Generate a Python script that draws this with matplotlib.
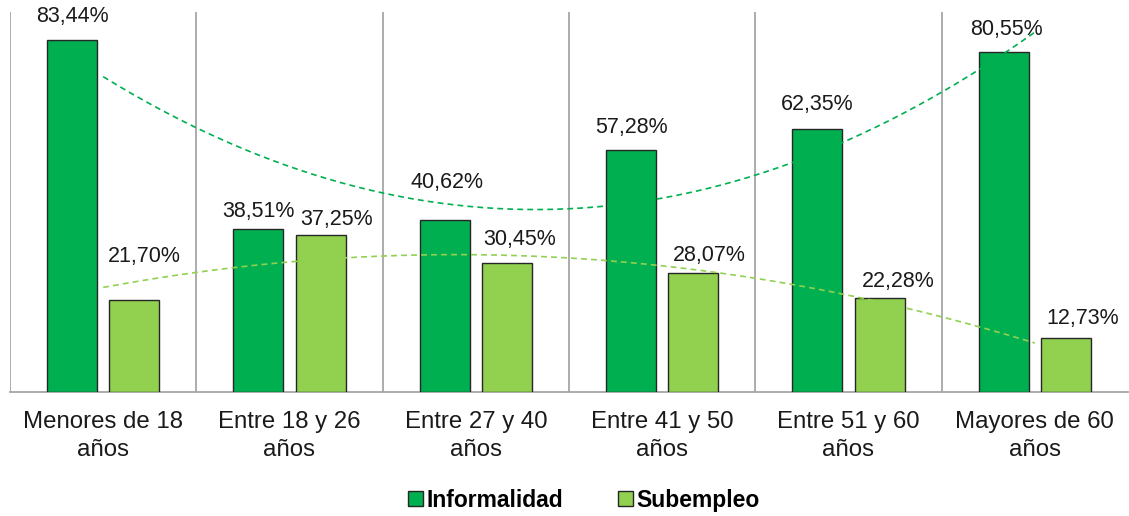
import numpy as np
import matplotlib.pyplot as plt
from matplotlib.patches import Patch

plt.rcParams['font.family'] = ['Liberation Sans', 'DejaVu Sans']

# --- datos ---
categorias = ["Menores de 18\naños", "Entre 18 y 26\naños", "Entre 27 y 40\naños",
              "Entre 41 y 50\naños", "Entre 51 y 60\naños", "Mayores de 60\naños"]
informalidad = [83.44, 38.51, 40.62, 57.28, 62.35, 80.55]
subempleo = [21.70, 37.25, 30.45, 28.07, 22.28, 12.73]

VERDE = "#00B050"
VERDE_CLARO = "#92D050"

# desplazamiento de las etiquetas (pixeles) respecto al tope de cada barra
off_inf = [(0, 23), (0, 18), (2, 38), (0, 23), (0, 24), (3, 22)]
off_sub = [(10, 44), (16, 15), (13, 24), (16, 18), (19, 16), (17, 20)]

fig = plt.figure(figsize=(11.29, 5.16), dpi=100)
ax = fig.add_axes([10 / 1129, 1 - 392 / 516, 1118 / 1129, 380 / 516])

x = np.arange(len(categorias))
ancho = 0.268
sep = 0.167

b1 = ax.bar(x - sep, informalidad, ancho, color=VERDE, edgecolor="#262626", linewidth=1.0, zorder=3)
b2 = ax.bar(x + sep, subempleo, ancho, color=VERDE_CLARO, edgecolor="#262626", linewidth=1.0, zorder=3)

# líneas de tendencia polinómicas (orden 2)
xs = np.linspace(0, len(categorias) - 1, 200)
for serie, col in [(informalidad, VERDE), (subempleo, VERDE_CLARO)]:
    coef = np.polyfit(x, serie, 2)
    ax.plot(xs, np.polyval(coef, xs), color=col, lw=1.2, dashes=(3.5, 2.5), zorder=4)

for barras, vals, offs in [(b1, informalidad, off_inf), (b2, subempleo, off_sub)]:
    for b, v, (dx, dy) in zip(barras, vals, offs):
        ax.annotate(f"{v:.2f}%".replace(".", ","),
                    (b.get_x() + b.get_width() / 2, v),
                    xytext=(dx, dy), textcoords="offset pixels",
                    ha="center", va="center", fontsize=15.5, color="#1a1a1a", zorder=5)

ax.set_xlim(-0.5, len(categorias) - 0.5)
ax.set_ylim(0, 90)
for g in np.arange(-0.5, len(categorias) - 0.5):
    ax.axvline(g, color="#A6A6A6", lw=1.3, zorder=1)

ax.set_yticks([])
ax.set_xticks(x)
ax.set_xticklabels(categorias, fontsize=17.3, color="#1a1a1a", linespacing=1.3)
ax.tick_params(axis="x", length=0, pad=14)
for s in ["left", "right", "top"]:
    ax.spines[s].set_visible(False)
ax.spines["bottom"].set_color("#A6A6A6")
ax.spines["bottom"].set_linewidth(1.3)

handles = [Patch(facecolor=VERDE, edgecolor="#262626", label="Informalidad"),
           Patch(facecolor=VERDE_CLARO, edgecolor="#262626", label="Subempleo")]
fig.legend(handles=handles, loc="center", bbox_to_anchor=(0.517, 0.031), ncol=2,
           frameon=False, prop={"weight": "bold", "size": 16.5},
           handlelength=0.65, handleheight=0.65, handletextpad=0.15, columnspacing=2.4)

fig.savefig("out.png", dpi=100)
